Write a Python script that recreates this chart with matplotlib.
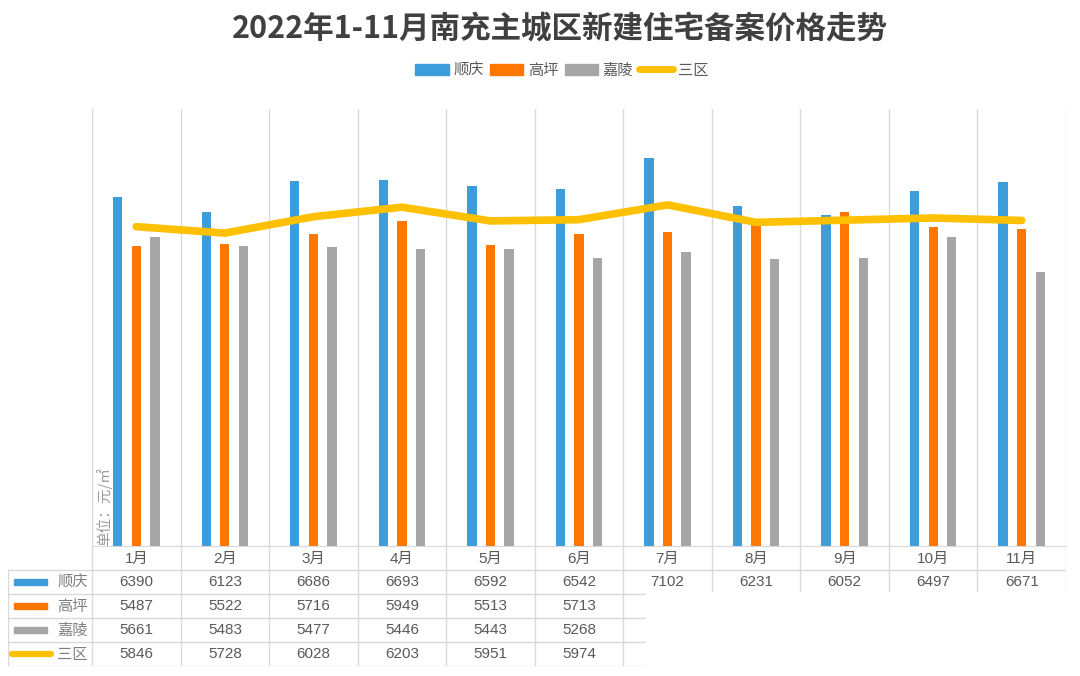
import numpy as np
import matplotlib.pyplot as plt
from matplotlib.patches import Patch, Rectangle
from matplotlib.lines import Line2D

plt.rcParams['font.family'] = ['Noto Sans CJK SC', 'DejaVu Sans']
num_font = ['Liberation Sans', 'Noto Sans CJK SC']

months = ['1月', '2月', '3月', '4月', '5月', '6月', '7月', '8月', '9月', '10月', '11月']
shunqing = [6390, 6123, 6686, 6693, 6592, 6542, 7102, 6231, 6052, 6497, 6671]
gaoping = [5487, 5522, 5716, 5949, 5513, 5713, 5745, 5895, 6115, 5835, 5810]
jialing = [5661, 5483, 5477, 5446, 5443, 5268, 5375, 5250, 5280, 5655, 5010]
sanqu = [5846, 5728, 6028, 6203, 5951, 5974, 6245, 5925, 5965, 6005, 5960]
names = ['顺庆', '高坪', '嘉陵', '三区']

c_blue = '#3D9DDB'
c_orange = '#FF7600'
c_gray = '#A6A6A6'
c_yellow = '#FFC000'
grid_c = '#D9D9D9'
text_c = '#595959'

fig = plt.figure(figsize=(10.8, 6.76), dpi=100)
ax = fig.add_axes([92 / 1080, 130 / 676, 974 / 1080, 437 / 676])

x = np.arange(len(months))
w = 0.105
ax.bar(x - 0.21, shunqing, w, color=c_blue, zorder=2)
ax.bar(x, gaoping, w, color=c_orange, zorder=2)
ax.bar(x + 0.21, jialing, w, color=c_gray, zorder=2)
ax.plot(x, sanqu, color=c_yellow, lw=5.5, solid_capstyle='round', zorder=3)

ax.set_xlim(-0.5, len(months) - 0.5)
ax.set_ylim(0, 8000)
for b in np.arange(-0.5, len(months), 1):
    ax.axvline(b, color=grid_c, lw=1, zorder=1)
for s in ['top', 'left', 'right']:
    ax.spines[s].set_visible(False)
ax.spines['bottom'].set_color(grid_c)
ax.set_yticks([])
ax.set_xticks(x)
ax.set_xticklabels(months, fontsize=11, color=text_c, family=num_font)
ax.tick_params(axis='x', length=0, pad=4)

ax.text(0.004, 0.0, '单位：元/㎡', transform=ax.transAxes, rotation=90,
        ha='left', va='bottom', fontsize=10.5, color='#9A9A9A')

# data table under the chart
tax = fig.add_axes([8 / 1080, 10 / 676, 1058 / 1080, 120 / 676])
left = -0.5 - 84 / 88.5
tax.set_xlim(left, len(months) - 0.5)
tax.set_ylim(5, 0)
tax.axis('off')
for b in np.arange(-0.5, len(months), 1):
    tax.plot([b, b], [0, 5], color=grid_c, lw=1)
tax.plot([left, left], [1, 5], color=grid_c, lw=1)
for r in range(1, 6):
    tax.plot([left, len(months) - 0.5], [r, r], color=grid_c, lw=1)

series = [shunqing, gaoping, jialing, sanqu]
colors = [c_blue, c_orange, c_gray, c_yellow]
for i, (name, vals, col) in enumerate(zip(names, series, colors)):
    yc = i + 1.5
    if i < 3:
        tax.add_patch(Rectangle((left + 0.07, yc - 0.14), 0.37, 0.28, color=col))
    else:
        tax.plot([left + 0.05, left + 0.48], [yc, yc], color=col, lw=4.5,
                 solid_capstyle='round')
    tax.text(-0.72, yc, name, ha='center', va='center', fontsize=11, color='#7F7F7F')
    shown = len(vals) if i == 0 else 6
    for j in range(shown):
        tax.text(j, yc, str(vals[j]), ha='center', va='center', fontsize=11,
                 color=text_c, family=num_font)

# white block that covers part of the table in the source image
fig.patches.append(Rectangle((646 / 1080, 0), 434 / 1080, 84 / 676, transform=fig.transFigure,
                             color='white', zorder=10))

fig.text(0.5185, 0.958, '2022年1-11月南充主城区新建住宅备案价格走势', ha='center', va='center',
         fontsize=22, fontweight='bold', color='#404040')

handles = [Patch(color=c_blue), Patch(color=c_orange), Patch(color=c_gray),
           Line2D([], [], color=c_yellow, lw=5, solid_capstyle='round')]
leg = fig.legend(handles, names, loc='center', bbox_to_anchor=(0.52, 0.896), ncol=4,
                 frameon=False, fontsize=11, handlelength=2.2, handleheight=0.7,
                 handletextpad=0.3, columnspacing=0.4)
for t in leg.get_texts():
    t.set_color(text_c)

fig.savefig('out.png', dpi=100)
